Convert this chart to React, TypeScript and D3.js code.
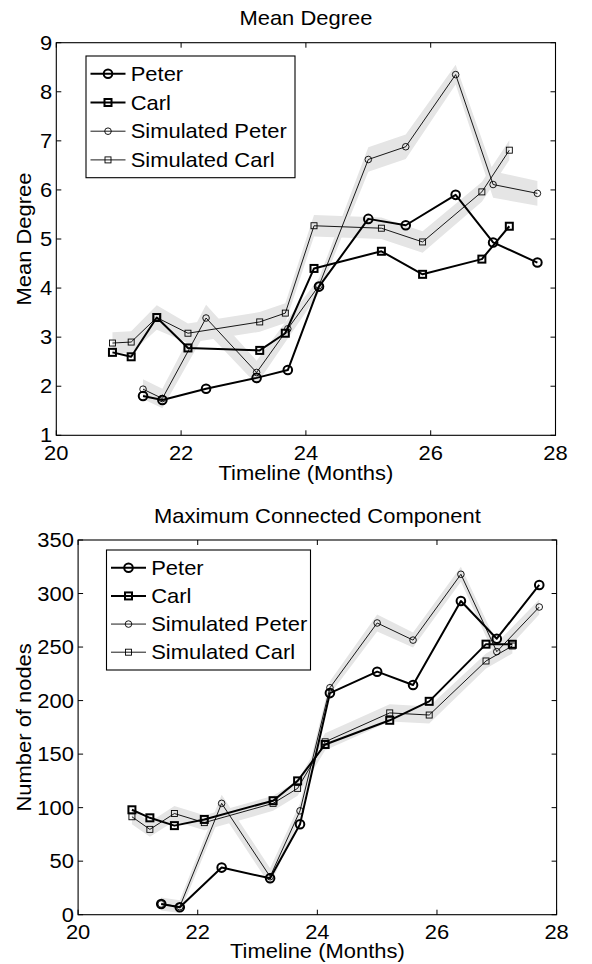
import React from "react";
import * as d3 from "d3";

// ---------- data ----------
const peterMonths = [21.39, 21.7, 22.4, 23.21, 23.71, 24.21, 25.0, 25.6, 26.4, 27.0, 27.71];
const carlMonths = [20.9, 21.2, 21.61, 22.11, 23.26, 23.67, 24.13, 25.21, 25.87, 26.82, 27.26];

const peterDegree = [1.8, 1.72, 1.95, 2.17, 2.33, 4.03, 5.41, 5.28, 5.9, 4.93, 4.52];
const carlDegree = [2.69, 2.6, 3.4, 2.78, 2.73, 3.08, 4.4, 4.75, 4.28, 4.59, 5.26];
const simPeterDegree = [1.94, 1.75, 3.39, 2.28, 3.17, 4.05, 6.62, 6.88, 8.35, 6.11, 5.93];
const simCarlDegree = [2.88, 2.9, 3.4, 3.08, 3.31, 3.49, 5.27, 5.22, 4.94, 5.96, 6.81];
const simPeterDegreeErr = [0.2, 0.2, 0.27, 0.24, 0.2, 0.15, 0.25, 0.25, 0.2, 0.27, 0.25];
const simCarlDegreeErr = [0.22, 0.22, 0.25, 0.2, 0.2, 0.2, 0.22, 0.22, 0.22, 0.2, 0.2];

const peterNodes = [10, 7, 44, 34, 84.5, 207, 227, 214.6, 293, 257.8, 308];
const carlNodes = [98, 90.5, 83.2, 89, 106.5, 125, 159, 181.6, 199.3, 252.7, 252.6];
const simPeterNodes = [10, 7.5, 104, 35.5, 97, 212, 272.5, 256.5, 318, 245.7, 287.4];
const simCarlNodes = [91.5, 79.7, 94.5, 86, 104, 118, 161.5, 188.5, 186.5, 237, 251];
const simPeterNodesErr = [6, 6, 8, 8, 7, 6, 8, 7, 7, 8, 7];
const simCarlNodesErr = [7, 7, 7, 7, 7, 7, 8, 8, 8, 7, 7];

const monthTicks = [20, 22, 24, 26, 28];
const degreeTicks = [1, 2, 3, 4, 5, 6, 7, 8, 9];
const nodeTicks = [0, 50, 100, 150, 200, 250, 300, 350];
const legendLabels = ["Peter", "Carl", "Simulated Peter", "Simulated Carl"];

// ---------- drawing ----------
const FONT = "'Liberation Sans', Arial, Helvetica, sans-serif";
const FS = 19.6;
const SX = 1.12;
const BAND = "#e5e5e5";

type Marker = "circle" | "square";
type Series = { months: number[]; values: number[]; err?: number[]; thick: boolean; marker: Marker };

function T({
  x, y, anchor = "start", rotate = false, middleY = false, children,
}: { x: number; y: number; anchor?: string; rotate?: boolean; middleY?: boolean; children: React.ReactNode }) {
  return (
    <text
      transform={`translate(${x},${y})${rotate ? " rotate(-90)" : ""} scale(${SX},1)`}
      textAnchor={anchor as any}
      dy={middleY ? "0.36em" : undefined}
      fontSize={FS}
      fontFamily={FONT}
      fill="#000"
    >
      {children}
    </text>
  );
}

function MarkerShape({ x, y, marker, thick }: { x: number; y: number; marker: Marker; thick: boolean }) {
  const sw = thick ? 2 : 0.9;
  if (marker === "circle") {
    const r = thick ? 4.3 : 3.3;
    return <circle cx={x} cy={y} r={r} fill="none" stroke="#000" strokeWidth={sw} />;
  }
  const s = thick ? 7 : 6;
  return <rect x={x - s / 2} y={y - s / 2} width={s} height={s} fill="none" stroke="#000" strokeWidth={sw} />;
}

type PanelProps = {
  left: number; right: number; top: number; bottom: number;
  yDomain: [number, number]; yTicks: number[];
  title: string; titleY: number; yLabel: string; yLabelX: number;
  tickLabelY: number; xLabelY: number;
  series: Series[];
  legend: { x: number; y: number; w: number; h: number };
};

function Panel(p: PanelProps) {
  const x = d3.scaleLinear().domain([20, 28]).range([p.left, p.right]);
  const y = d3.scaleLinear().domain(p.yDomain).range([p.bottom, p.top]);
  const cx = (p.left + p.right) / 2;
  const cy = (p.top + p.bottom) / 2;
  const tl = 5;

  const line = d3.line<[number, number]>().x((d) => x(d[0])).y((d) => y(d[1]));
  const area = d3
    .area<[number, number, number]>()
    .x((d) => x(d[0]))
    .y0((d) => y(d[1] - d[2]))
    .y1((d) => y(d[1] + d[2]));

  const rowGap = (p.legend.h - 2 * 17.8) / 3;
  const legendRowY = (i: number) => p.legend.y + 17.8 + i * rowGap;

  return (
    <g>
      {p.series.map((s, i) =>
        s.err ? (
          <path
            key={"b" + i}
            d={area(s.months.map((m, j) => [m, s.values[j], s.err![j]] as [number, number, number])) || ""}
            fill={BAND}
            stroke="none"
          />
        ) : null
      )}
      {p.series.map((s, i) => (
        <g key={"s" + i}>
          <path
            d={line(s.months.map((m, j) => [m, s.values[j]] as [number, number])) || ""}
            fill="none"
            stroke="#000"
            strokeWidth={s.thick ? 2 : 0.9}
            strokeLinejoin="round"
          />
          {s.months.map((m, j) => (
            <MarkerShape key={j} x={x(m)} y={y(s.values[j])} marker={s.marker} thick={s.thick} />
          ))}
        </g>
      ))}
      <rect x={p.left} y={p.top} width={p.right - p.left} height={p.bottom - p.top} fill="none" stroke="#000" strokeWidth={1.1} />
      {monthTicks.map((t) => (
        <g key={"xt" + t}>
          <line x1={x(t)} x2={x(t)} y1={p.bottom} y2={p.bottom - tl} stroke="#000" strokeWidth={1} />
          <line x1={x(t)} x2={x(t)} y1={p.top} y2={p.top + tl} stroke="#000" strokeWidth={1} />
          <T x={x(t)} y={p.tickLabelY} anchor="middle">{t}</T>
        </g>
      ))}
      {p.yTicks.map((t) => (
        <g key={"yt" + t}>
          <line x1={p.left} x2={p.left + tl} y1={y(t)} y2={y(t)} stroke="#000" strokeWidth={1} />
          <line x1={p.right} x2={p.right - tl} y1={y(t)} y2={y(t)} stroke="#000" strokeWidth={1} />
          <T x={p.left - 4.2} y={y(t)} anchor="end" middleY>{t}</T>
        </g>
      ))}
      <T x={cx} y={p.titleY} anchor="middle">{p.title}</T>
      <T x={cx} y={p.xLabelY} anchor="middle">Timeline (Months)</T>
      <T x={p.yLabelX} y={cy} anchor="middle" rotate>{p.yLabel}</T>
      <rect x={p.legend.x} y={p.legend.y} width={p.legend.w} height={p.legend.h} fill="#fff" stroke="#000" strokeWidth={1.1} />
      {legendLabels.map((lab, i) => {
        const s = p.series[i];
        const ly = legendRowY(i);
        const lx0 = p.legend.x + 4.5;
        const lx1 = p.legend.x + 39.5;
        return (
          <g key={"lg" + i}>
            <line x1={lx0} x2={lx1} y1={ly} y2={ly} stroke="#000" strokeWidth={s.thick ? 2 : 0.9} />
            <MarkerShape x={(lx0 + lx1) / 2} y={ly} marker={s.marker} thick={s.thick} />
            <T x={p.legend.x + 44.7} y={ly} middleY>{lab}</T>
          </g>
        );
      })}
    </g>
  );
}

export default function App() {
  const topSeries: Series[] = [
    { months: peterMonths, values: peterDegree, thick: true, marker: "circle" },
    { months: carlMonths, values: carlDegree, thick: true, marker: "square" },
    { months: peterMonths, values: simPeterDegree, err: simPeterDegreeErr, thick: false, marker: "circle" },
    { months: carlMonths, values: simCarlDegree, err: simCarlDegreeErr, thick: false, marker: "square" },
  ];
  const bottomSeries: Series[] = [
    { months: peterMonths, values: peterNodes, thick: true, marker: "circle" },
    { months: carlMonths, values: carlNodes, thick: true, marker: "square" },
    { months: peterMonths, values: simPeterNodes, err: simPeterNodesErr, thick: false, marker: "circle" },
    { months: carlMonths, values: simCarlNodes, err: simCarlNodesErr, thick: false, marker: "square" },
  ];
  return (
    <div style={{ position: "absolute", left: 0, top: 0 }}>
      <svg width={592} height={964} viewBox="0 0 592 964" style={{ display: "block", background: "#fff" }}>
        <rect x={0} y={0} width={592} height={964} fill="#fff" />
        <Panel
          left={56.3}
          right={555.5}
          top={42.7}
          bottom={435.3}
          yDomain={[1, 9]}
          yTicks={degreeTicks}
          title="Mean Degree"
          titleY={25}
          yLabel="Mean Degree"
          yLabelX={31}
          tickLabelY={459.5}
          xLabelY={480}
          series={topSeries}
          legend={{ x: 86, y: 56, w: 209, h: 121.7 }}
        />
        <Panel
          left={78.1}
          right={556.6}
          top={540}
          bottom={914.7}
          yDomain={[0, 350]}
          yTicks={nodeTicks}
          title="Maximum Connected Component"
          titleY={523.3}
          yLabel="Number of nodes"
          yLabelX={31}
          tickLabelY={938.5}
          xLabelY={958}
          series={bottomSeries}
          legend={{ x: 106.5, y: 550, w: 204, h: 120 }}
        />
      </svg>
    </div>
  );
}
